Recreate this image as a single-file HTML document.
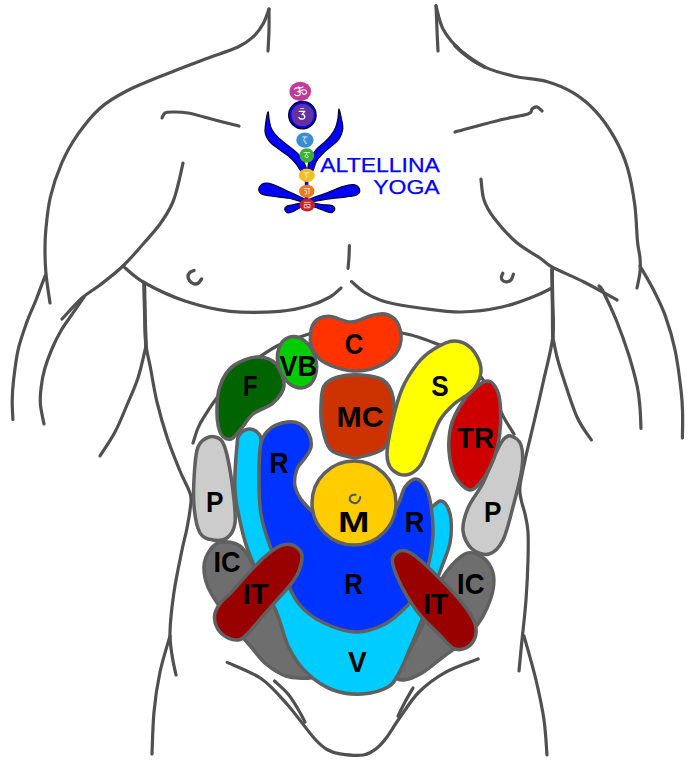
<!DOCTYPE html>
<html><head><meta charset="utf-8"><title>Diagram</title>
<style>html,body{margin:0;padding:0;background:#fff}svg{display:block}</style></head>
<body>
<svg width="700" height="779" viewBox="0 0 700 779">
<rect width="700" height="779" fill="#ffffff"/>
<g fill="none" stroke="#505050" stroke-width="3.2" stroke-linecap="round" stroke-linejoin="round">
<path d="M269.0,9.0 C268.0,11.5 265.7,19.3 263.0,24.0 C260.3,28.7 257.2,33.2 253.0,37.0 C248.8,40.8 246.2,43.2 238.0,47.0 C229.8,50.8 217.0,54.6 204.0,59.5 C191.0,64.4 172.9,71.2 160.0,76.5 C147.1,81.8 136.5,85.8 126.6,91.0 C116.7,96.2 108.6,100.6 100.6,107.7 C92.5,114.8 84.8,124.4 78.3,133.7 C71.8,143.0 66.2,152.8 61.6,163.4 C57.0,174.0 53.0,185.9 50.4,197.0 C47.8,208.1 46.7,220.8 45.8,230.0 C44.9,239.2 45.0,244.7 45.0,252.0 C45.0,259.3 45.2,265.5 46.0,274.0 C46.8,282.5 49.3,298.2 50.0,303.0"/>
<path d="M269.0,9.0 C269.0,12.5 269.2,23.0 269.0,30.0 C268.8,37.0 268.2,47.5 268.0,51.0"/>
<path d="M162.0,118.0 C162.5,117.2 163.3,114.0 165.0,113.0 C166.7,112.0 168.2,112.0 172.0,112.0 C175.8,112.0 180.8,111.7 188.0,113.0 C195.2,114.3 206.5,117.8 215.0,120.0 C223.5,122.2 235.0,125.0 239.0,126.0"/>
<path d="M183.0,163.0 C182.2,166.7 179.8,178.2 178.0,185.0 C176.2,191.8 175.0,197.5 172.0,204.0 C169.0,210.5 164.7,217.5 160.0,224.0 C155.3,230.5 150.2,236.0 144.0,243.0 C137.8,250.0 130.3,259.0 123.0,266.0 C115.7,273.0 106.8,279.7 100.0,285.0 C93.2,290.3 88.3,292.3 82.0,298.0 C75.7,303.7 65.3,315.5 62.0,319.0"/>
<path d="M45.0,276.0 C43.5,280.0 39.0,292.4 36.0,300.0 C33.0,307.6 30.0,313.2 27.0,321.6 C24.0,330.0 20.2,340.4 18.0,350.3 C15.8,360.2 14.5,372.4 13.5,380.8 C12.5,389.2 12.3,394.2 12.2,400.6 C12.1,407.1 12.8,416.4 12.9,419.5"/>
<path d="M84.0,297.0 C82.0,299.9 75.8,308.8 72.0,314.4 C68.2,320.0 64.4,324.8 61.1,330.5 C57.8,336.2 54.8,342.2 52.1,348.5 C49.4,354.8 46.7,362.0 44.9,368.3 C43.1,374.6 42.0,380.2 41.3,386.2 C40.5,392.2 39.9,397.9 40.4,404.2 C40.9,410.5 43.4,420.7 44.0,424.0"/>
<path d="M123.0,266.0 C126.5,268.8 133.7,276.7 144.0,282.5 C154.3,288.3 170.7,296.2 185.0,301.0 C199.3,305.8 214.2,309.6 230.0,311.3 C245.8,313.0 266.7,312.3 280.0,311.3 C293.3,310.3 301.7,307.9 310.0,305.5 C318.3,303.1 324.8,299.9 330.0,297.0 C335.2,294.1 339.2,289.5 341.0,288.0"/>
<path d="M144.0,282.0 C144.2,288.3 144.7,309.5 145.0,320.0 C145.3,330.5 145.1,336.9 146.0,345.0 C146.9,353.1 148.8,359.0 150.6,368.5 C152.4,378.0 154.2,390.4 157.0,402.0 C159.8,413.6 163.5,426.5 167.3,438.0 C171.1,449.5 176.2,461.6 180.0,471.0 C183.8,480.4 188.7,487.9 190.4,494.4 C192.1,500.9 190.6,504.1 190.0,510.0 C189.4,515.9 187.9,523.3 186.6,530.0 C185.3,536.7 184.1,539.7 182.0,550.0 C179.9,560.3 176.0,578.3 174.0,592.0 C172.0,605.7 170.3,621.5 170.0,632.0 C169.7,642.5 171.0,647.8 172.0,655.0 C173.0,662.2 175.3,671.7 176.0,675.0"/>
<path d="M144.3,284.0 C144.4,290.0 144.7,309.7 145.0,320.0 C145.3,330.3 145.8,341.7 146.0,346.0" stroke-width="3.8"/>
<path d="M146.0,346.0 C144.7,351.3 141.2,368.2 138.0,378.0 C134.8,387.8 130.8,396.0 127.0,405.0 C123.2,414.0 119.5,423.5 115.0,432.0 C110.5,440.5 102.5,452.0 100.0,456.0"/>
<path d="M170.0,636.0 C168.3,642.0 162.7,659.3 160.0,672.0 C157.3,684.7 155.3,698.3 154.0,712.0 C152.7,725.7 152.3,747.0 152.0,754.0"/>
<path d="M194.0,270.5 C193.3,270.8 190.8,271.5 189.8,272.5 C188.8,273.5 188.0,275.1 188.0,276.5 C188.0,277.9 188.8,279.8 189.8,281.0 C190.8,282.2 192.6,283.5 194.0,283.8 C195.4,284.1 197.2,283.8 198.5,283.0 C199.8,282.2 201.1,279.7 201.6,279.0" stroke-width="3.4"/>
<path d="M436.0,5.6 C437.2,9.6 439.1,22.0 443.4,29.7 C447.7,37.4 455.2,45.8 462.0,52.0 C468.8,58.2 475.6,62.9 484.3,66.9 C493.0,70.9 503.5,73.7 514.0,76.2 C524.5,78.7 537.5,78.9 547.4,81.7 C557.3,84.5 565.3,88.0 573.4,92.9 C581.5,97.9 588.9,104.0 595.7,111.4 C602.5,118.8 609.0,128.1 614.3,137.4 C619.6,146.7 623.9,156.0 627.3,167.2 C630.7,178.3 633.0,191.9 634.7,204.3 C636.4,216.7 636.6,232.6 637.5,241.5 C638.4,250.4 639.6,252.9 640.0,258.0 C640.4,263.1 640.5,267.0 640.0,272.0 C639.5,277.0 637.5,285.3 637.0,288.0"/>
<path d="M455.0,45.5 C456.2,46.6 459.0,49.6 462.0,52.0 C465.0,54.4 469.3,57.5 473.0,60.0 C476.7,62.5 482.4,65.8 484.3,66.9" stroke-width="3.8"/>
<path d="M436.0,6.0 C436.2,10.0 436.7,22.5 437.0,30.0 C437.3,37.5 437.8,47.5 438.0,51.0"/>
<path d="M455.0,132.0 C462.5,130.0 487.8,123.0 500.0,120.0 C512.2,117.0 522.7,115.8 528.0,114.0 C533.3,112.2 530.5,110.2 532.0,109.0 C533.5,107.8 535.3,106.7 537.0,107.0 C538.7,107.3 541.2,110.3 542.0,111.0"/>
<path d="M481.0,179.0 C481.5,182.5 481.8,193.5 484.0,200.0 C486.2,206.5 488.7,211.0 494.0,218.0 C499.3,225.0 508.3,235.3 516.0,242.0 C523.7,248.7 534.0,253.8 540.0,258.0 C546.0,262.2 544.7,263.0 552.0,267.0 C559.3,271.0 573.2,276.5 584.0,282.0 C594.8,287.5 611.5,297.0 617.0,300.0"/>
<path d="M640.0,266.0 C642.2,269.9 649.0,280.9 653.2,289.3 C657.4,297.7 661.8,306.0 665.4,316.1 C669.0,326.2 672.5,337.6 675.1,350.2 C677.7,362.8 680.0,380.9 681.2,391.7 C682.5,402.5 682.4,407.3 682.6,415.0 C682.8,422.7 682.4,434.2 682.4,438.0"/>
<path d="M599.0,286.0 C599.7,286.9 600.3,285.9 603.2,291.7 C606.1,297.5 612.3,310.4 616.6,321.0 C620.9,331.6 625.3,344.1 628.8,355.1 C632.2,366.1 635.4,378.0 637.3,386.8 C639.2,395.6 639.4,401.1 640.0,408.0 C640.6,414.9 640.8,424.9 641.0,428.3"/>
<path d="M351.6,281.6 C353.7,283.3 359.3,288.9 364.0,292.0 C368.7,295.1 374.0,297.8 380.0,300.0 C386.0,302.2 393.3,303.7 400.0,305.0 C406.7,306.3 409.8,306.8 420.0,308.0 C430.2,309.2 447.3,312.2 461.0,312.0 C474.7,311.8 489.7,309.7 502.0,307.0 C514.3,304.3 526.7,299.2 535.0,296.0 C543.3,292.8 549.2,289.3 552.0,288.0"/>
<path d="M552.0,268.0 C552.1,273.3 552.4,288.5 552.5,300.0 C552.6,311.5 554.4,323.2 552.8,337.0 C551.2,350.8 546.0,369.2 543.0,383.0 C540.0,396.8 537.4,407.5 534.5,420.0 C531.6,432.5 527.9,447.0 525.5,458.0 C523.1,469.0 520.8,479.2 520.0,486.0 C519.2,492.8 520.2,494.3 521.0,499.0 C521.8,503.7 523.8,508.5 525.0,514.0 C526.2,519.5 527.5,524.3 528.0,532.0 C528.5,539.7 528.3,548.7 528.0,560.0 C527.7,571.3 527.0,586.7 526.0,600.0 C525.0,613.3 523.2,628.2 522.0,640.0 C520.8,651.8 519.5,665.8 519.0,671.0"/>
<path d="M552.8,337.0 C553.5,340.3 555.3,350.3 557.0,357.0 C558.7,363.7 559.7,367.0 563.0,377.0 C566.3,387.0 572.3,406.5 577.0,417.0 C581.7,427.5 589.0,436.2 591.4,440.0"/>
<path d="M552.0,270.0 C552.1,275.0 552.4,288.8 552.5,300.0 C552.6,311.2 552.8,330.8 552.8,337.0" stroke-width="3.6"/>
<path d="M524.0,636.0 C526.0,643.3 532.7,666.0 536.0,680.0 C539.3,694.0 542.2,707.5 544.0,720.0 C545.8,732.5 546.5,749.2 547.0,755.0"/>
<path d="M502.8,273.2 C502.6,273.9 501.3,276.2 501.3,277.5 C501.3,278.8 502.1,280.1 503.0,280.8 C503.9,281.5 505.6,282.0 507.0,281.8 C508.4,281.6 510.2,280.9 511.3,279.6 C512.4,278.3 513.0,275.1 513.4,274.2" stroke-width="3.2"/>
<path d="M227.2,662.4 C232.9,665.1 251.3,671.7 261.4,678.8 C271.5,685.9 278.9,695.1 287.7,705.0 C296.5,714.9 307.4,730.6 314.0,738.0 C320.6,745.4 322.6,746.9 327.0,749.5 C331.4,752.1 334.2,753.0 340.2,753.9 C346.2,754.8 357.2,755.9 363.2,755.0 C369.2,754.1 372.6,751.3 376.4,748.5 C380.2,745.7 382.4,743.0 386.2,738.0 C390.0,733.0 393.9,726.0 399.4,718.3 C404.9,710.6 411.3,699.7 419.0,692.0 C426.7,684.3 435.5,677.8 445.4,672.3 C455.3,666.8 472.7,661.2 478.2,659.0"/>
<path d="M274.5,681.0 C276.8,683.2 284.1,689.3 288.0,694.0 C291.9,698.7 295.2,704.3 298.0,709.0 C300.8,713.7 303.8,719.8 305.0,722.0"/>
<path d="M413.0,688.0 C411.7,690.3 407.5,697.3 405.0,702.0 C402.5,706.7 399.2,713.7 398.0,716.0"/>
<path d="M349.4,245.6 C349.3,247.5 349.2,253.2 349.0,257.0 C348.8,260.8 348.2,266.5 348.0,268.4"/>
<path d="M193.0,443.0 C193.8,440.5 196.2,432.3 198.0,428.0 C199.8,423.7 201.0,421.8 204.0,417.0 C207.0,412.2 211.3,405.2 216.0,399.0 C220.7,392.8 226.3,385.8 232.0,380.0 C237.7,374.2 242.5,369.7 250.0,364.0 C257.5,358.3 268.2,350.7 277.0,346.0 C285.8,341.3 296.2,338.5 303.0,336.0 C309.8,333.5 315.5,331.8 318.0,331.0"/>
<path d="M398.0,332.0 C401.3,332.8 411.0,334.8 418.0,337.0 C425.0,339.2 436.3,343.7 440.0,345.0"/>
<path d="M481.0,377.0 C483.2,380.2 490.3,389.5 494.0,396.0 C497.7,402.5 499.7,409.7 503.0,416.0 C506.3,422.3 512.2,431.0 514.0,434.0"/>
</g>
<path d="M221.0,542.0 C216.0,542.7 212.8,546.0 210.0,550.0 C207.2,554.0 204.3,559.8 204.0,566.0 C203.7,572.2 205.0,579.7 208.0,587.0 C211.0,594.3 216.7,602.2 222.0,610.0 C227.3,617.8 235.0,627.7 240.0,634.0 C245.0,640.3 247.7,643.0 252.0,648.0 C256.3,653.0 260.3,659.3 266.0,664.0 C271.7,668.7 278.7,673.7 286.0,676.0 C293.3,678.3 304.8,678.7 310.0,678.0 C315.2,677.3 319.3,677.7 317.0,672.0 C314.7,666.3 303.2,655.3 296.0,644.0 C288.8,632.7 281.0,617.0 274.0,604.0 C267.0,591.0 259.7,575.7 254.0,566.0 C248.3,556.3 245.5,550.0 240.0,546.0 C234.5,542.0 226.0,541.3 221.0,542.0Z" fill="#6e6e6e" stroke="#606060" stroke-width="3.5" stroke-linejoin="round"/>
<path d="M468.0,553.0 C473.3,551.9 479.8,555.2 484.0,558.5 C488.2,561.8 491.5,567.8 493.0,573.0 C494.5,578.2 494.0,584.2 493.0,590.0 C492.0,595.8 489.5,602.3 487.0,608.0 C484.5,613.7 482.5,618.0 478.0,624.0 C473.5,630.0 465.8,638.5 460.0,644.0 C454.2,649.5 449.3,652.2 443.0,657.0 C436.7,661.8 428.5,669.2 422.0,673.0 C415.5,676.8 408.2,679.7 404.0,680.0 C399.8,680.3 396.0,680.0 397.0,675.0 C398.0,670.0 405.3,659.2 410.0,650.0 C414.7,640.8 420.3,630.7 425.0,620.0 C429.7,609.3 433.5,595.2 438.0,586.0 C442.5,576.8 447.0,570.5 452.0,565.0 C457.0,559.5 462.7,554.1 468.0,553.0Z" fill="#6e6e6e" stroke="#606060" stroke-width="3.5" stroke-linejoin="round"/>
<path d="M249.0,429.0 C246.0,429.2 242.0,431.3 240.0,434.0 C238.0,436.7 237.8,435.5 237.0,445.0 C236.2,454.5 234.0,476.2 235.0,491.0 C236.0,505.8 240.0,522.0 243.0,534.0 C246.0,546.0 247.5,550.2 253.0,563.0 C258.5,575.8 270.0,596.8 276.0,611.0 C282.0,625.2 283.8,637.7 289.0,648.0 C294.2,658.3 299.7,666.0 307.0,673.0 C314.3,680.0 323.8,686.5 333.0,690.0 C342.2,693.5 352.8,694.5 362.0,694.0 C371.2,693.5 381.8,690.5 388.0,687.0 C394.2,683.5 395.2,679.8 399.0,673.0 C402.8,666.2 407.3,654.5 411.0,646.0 C414.7,637.5 416.0,634.8 421.0,622.0 C426.0,609.2 436.2,582.2 441.0,569.0 C445.8,555.8 448.3,551.2 450.0,543.0 C451.7,534.8 451.5,526.2 451.0,520.0 C450.5,513.8 448.8,509.2 447.0,506.0 C445.2,502.8 442.8,500.7 440.0,501.0 C437.2,501.3 436.7,504.8 430.0,508.0 C423.3,511.2 416.7,518.0 400.0,520.0 C383.3,522.0 351.7,523.3 330.0,520.0 C308.3,516.7 281.3,512.5 270.0,500.0 C258.7,487.5 264.0,456.2 262.0,445.0 C260.0,433.8 260.2,435.7 258.0,433.0 C255.8,430.3 252.0,428.8 249.0,429.0Z" fill="#00ccff" stroke="#606060" stroke-width="3.5" stroke-linejoin="round"/>
<path d="M287.0,422.0 C291.8,421.3 296.3,422.0 300.0,424.0 C303.7,426.0 307.2,430.2 309.0,434.0 C310.8,437.8 311.7,443.0 311.0,447.0 C310.3,451.0 307.3,454.3 305.0,458.0 C302.7,461.7 298.7,464.3 297.0,469.0 C295.3,473.7 293.8,480.3 295.0,486.0 C296.2,491.7 299.8,498.2 304.0,503.0 C308.2,507.8 311.7,512.2 320.0,515.0 C328.3,517.8 342.0,520.5 354.0,520.0 C366.0,519.5 383.5,517.5 392.0,512.0 C400.5,506.5 401.0,492.5 405.0,487.0 C409.0,481.5 412.5,478.8 416.0,479.0 C419.5,479.2 423.5,483.5 426.0,488.0 C428.5,492.5 429.8,498.3 431.0,506.0 C432.2,513.7 433.3,524.7 433.0,534.0 C432.7,543.3 431.0,553.0 429.0,562.0 C427.0,571.0 424.7,580.7 421.0,588.0 C417.3,595.3 413.0,600.0 407.0,606.0 C401.0,612.0 393.5,619.7 385.0,624.0 C376.5,628.3 366.5,632.3 356.0,632.0 C345.5,631.7 331.5,626.7 322.0,622.0 C312.5,617.3 305.3,611.7 299.0,604.0 C292.7,596.3 288.8,585.7 284.0,576.0 C279.2,566.3 273.8,556.3 270.0,546.0 C266.2,535.7 262.8,525.5 261.0,514.0 C259.2,502.5 259.0,488.8 259.0,477.0 C259.0,465.2 259.0,451.2 261.0,443.0 C263.0,434.8 266.7,431.5 271.0,428.0 C275.3,424.5 282.2,422.7 287.0,422.0Z" fill="#0033ff" stroke="#606060" stroke-width="3.5" stroke-linejoin="round"/>
<circle cx="354" cy="503" r="42" fill="#ffcc00" stroke="#606060" stroke-width="3.5"/>
<path d="M355.6,494.8 C355.0,494.8 353.1,494.6 352.2,495.0 C351.2,495.4 350.2,496.5 349.9,497.5 C349.6,498.5 349.8,500.1 350.5,501.0 C351.2,501.9 352.8,502.8 354.0,503.0 C355.2,503.2 356.6,502.9 357.5,502.3 C358.4,501.7 359.2,500.5 359.6,499.6 C360.1,498.7 360.1,497.4 360.2,497.0" fill="none" stroke="#545462" stroke-width="2.1" stroke-linecap="round"/>
<path d="M285.3,544.4 C288.4,544.2 292.9,544.7 295.6,546.4 C298.4,548.1 301.1,550.8 301.8,554.6 C302.5,558.4 301.4,564.2 299.7,569.0 C298.0,573.8 295.3,578.3 291.5,583.4 C287.7,588.5 281.9,594.3 277.1,599.8 C272.3,605.3 267.2,611.1 262.8,616.2 C258.4,621.3 254.2,626.7 250.4,630.6 C246.6,634.5 243.9,638.3 240.2,639.5 C236.4,640.7 231.7,639.6 227.9,637.8 C224.1,636.0 219.8,632.2 217.6,628.6 C215.4,625.0 214.2,620.3 214.5,616.2 C214.8,612.1 216.7,608.0 219.6,603.9 C222.5,599.8 227.2,596.7 232.0,591.6 C236.8,586.5 242.9,578.9 248.4,573.1 C253.9,567.3 260.0,561.0 264.8,556.7 C269.6,552.4 273.7,549.5 277.1,547.5 C280.5,545.5 282.2,544.6 285.3,544.4Z" fill="#990000" stroke="#606060" stroke-width="3.5"/>
<path d="M392.3,560.0 C392.3,556.3 394.7,554.6 396.4,553.0 C398.1,551.4 400.2,550.5 402.6,550.5 C405.0,550.5 407.7,551.3 410.8,553.0 C413.9,554.7 416.2,556.6 421.0,560.8 C425.8,565.0 433.3,572.1 439.5,578.3 C445.7,584.5 452.9,591.8 458.0,597.8 C463.1,603.8 467.3,609.1 470.3,614.2 C473.3,619.3 475.5,624.1 476.0,628.6 C476.5,633.1 475.4,637.6 473.4,641.0 C471.4,644.4 467.6,647.5 464.2,648.7 C460.8,649.9 457.1,650.3 453.0,648.0 C448.9,645.7 444.8,640.0 439.5,634.7 C434.2,629.4 426.5,622.7 421.0,616.2 C415.5,609.7 410.8,602.5 406.7,595.7 C402.6,588.9 398.8,581.2 396.4,575.2 C394.0,569.2 392.3,563.7 392.3,560.0Z" fill="#990000" stroke="#606060" stroke-width="3.5"/>
<path d="M209.0,437.0 C212.8,435.8 218.0,437.0 221.0,440.0 C224.0,443.0 225.0,446.5 227.0,455.0 C229.0,463.5 231.7,479.7 233.0,491.0 C234.3,502.3 236.0,515.2 235.0,523.0 C234.0,530.8 230.7,535.2 227.0,538.0 C223.3,540.8 217.5,540.8 213.0,540.0 C208.5,539.2 203.2,538.7 200.0,533.0 C196.8,527.3 194.9,516.3 194.0,506.0 C193.1,495.7 193.8,480.8 194.5,471.0 C195.2,461.2 195.6,452.7 198.0,447.0 C200.4,441.3 205.2,438.2 209.0,437.0Z" fill="#cccccc" stroke="#606060" stroke-width="3.5" stroke-linejoin="round"/>
<path d="M511.0,436.0 C514.0,436.8 519.2,439.7 521.0,445.0 C522.8,450.3 523.2,458.3 522.0,468.0 C520.8,477.7 517.2,491.0 514.0,503.0 C510.8,515.0 507.2,531.5 503.0,540.0 C498.8,548.5 494.2,552.5 489.0,554.0 C483.8,555.5 476.3,552.8 472.0,549.0 C467.7,545.2 463.7,537.8 463.0,531.0 C462.3,524.2 464.7,516.0 468.0,508.0 C471.3,500.0 478.7,491.5 483.0,483.0 C487.3,474.5 490.7,464.2 494.0,457.0 C497.3,449.8 500.2,443.5 503.0,440.0 C505.8,436.5 508.0,435.2 511.0,436.0Z" fill="#cccccc" stroke="#606060" stroke-width="3.5" stroke-linejoin="round"/>
<path d="M310.3,340.0 C310.3,335.2 310.8,326.9 313.8,323.0 C316.8,319.1 322.3,316.5 328.5,316.3 C334.7,316.1 344.1,322.1 351.0,322.0 C357.9,321.9 364.3,317.3 370.0,316.0 C375.7,314.7 380.5,313.0 385.0,314.0 C389.5,315.0 394.3,317.7 397.0,322.0 C399.7,326.3 401.7,334.2 401.0,340.0 C400.3,345.8 398.0,352.2 393.0,357.0 C388.0,361.8 378.3,366.8 371.0,369.0 C363.7,371.2 356.7,371.5 349.0,370.5 C341.3,369.5 330.8,365.9 325.0,362.8 C319.2,359.7 316.4,355.8 314.0,352.0 C311.6,348.2 310.3,344.8 310.3,340.0Z" fill="#ff3300" stroke="#606060" stroke-width="3.5" stroke-linejoin="round"/>
<path d="M257.0,357.0 C264.2,356.7 271.5,359.2 276.0,364.0 C280.5,368.8 284.5,379.5 284.0,386.0 C283.5,392.5 278.2,398.3 273.0,403.0 C267.8,407.7 258.3,409.7 253.0,414.0 C247.7,418.3 244.7,424.8 241.0,429.0 C237.3,433.2 234.3,438.2 231.0,439.0 C227.7,439.8 223.3,438.2 221.0,434.0 C218.7,429.8 217.2,422.0 217.0,414.0 C216.8,406.0 217.3,394.0 220.0,386.0 C222.7,378.0 226.8,370.8 233.0,366.0 C239.2,361.2 249.8,357.3 257.0,357.0Z" fill="#006400" stroke="#606060" stroke-width="3.5" stroke-linejoin="round"/>
<path d="M324.0,386.0 C326.8,381.2 331.8,378.8 338.0,377.0 C344.2,375.2 353.5,374.5 361.0,375.0 C368.5,375.5 377.7,376.3 383.0,380.0 C388.3,383.7 391.3,388.8 393.0,397.0 C394.7,405.2 394.7,420.3 393.0,429.0 C391.3,437.7 388.5,444.3 383.0,449.0 C377.5,453.7 365.5,455.7 360.0,457.0 C354.5,458.3 355.0,458.3 350.0,457.0 C345.0,455.7 334.7,454.2 330.0,449.0 C325.3,443.8 323.5,433.2 322.0,426.0 C320.5,418.8 320.7,412.7 321.0,406.0 C321.3,399.3 321.2,390.8 324.0,386.0Z" fill="#cc3300" stroke="#606060" stroke-width="3.5" stroke-linejoin="round"/>
<path d="M454.0,341.0 C460.2,340.8 466.5,343.5 471.0,348.0 C475.5,352.5 480.5,361.2 481.0,368.0 C481.5,374.8 478.5,383.0 474.0,389.0 C469.5,395.0 459.7,398.8 454.0,404.0 C448.3,409.2 444.2,413.0 440.0,420.0 C435.8,427.0 432.3,438.3 429.0,446.0 C425.7,453.7 423.8,461.2 420.0,466.0 C416.2,470.8 410.7,474.4 406.0,475.0 C401.3,475.6 395.2,473.0 392.0,469.5 C388.8,466.0 387.0,461.8 387.0,454.0 C387.0,446.2 389.5,433.8 392.0,423.0 C394.5,412.2 397.8,398.9 402.0,389.0 C406.2,379.1 412.2,370.2 417.5,363.5 C422.8,356.8 427.9,352.8 434.0,349.0 C440.1,345.2 447.8,341.2 454.0,341.0Z" fill="#ffff00" stroke="#606060" stroke-width="3.5" stroke-linejoin="round"/>
<path d="M488.0,381.0 C491.8,381.2 494.9,385.5 497.0,390.0 C499.1,394.5 500.1,400.3 500.5,408.0 C500.9,415.7 500.6,427.7 499.5,436.0 C498.4,444.3 496.8,450.8 494.0,458.0 C491.2,465.2 487.0,473.7 483.0,479.0 C479.0,484.3 474.7,490.5 470.0,490.0 C465.3,489.5 458.5,482.5 455.0,476.0 C451.5,469.5 449.7,459.3 449.0,451.0 C448.3,442.7 449.2,433.5 451.0,426.0 C452.8,418.5 456.2,412.2 460.0,406.0 C463.8,399.8 469.3,393.2 474.0,389.0 C478.7,384.8 484.2,380.8 488.0,381.0Z" fill="#cc0000" stroke="#606060" stroke-width="3.5" stroke-linejoin="round"/>
<ellipse cx="297" cy="362.3" rx="18.8" ry="26.3" transform="rotate(-17 297 362.3)" fill="#00cc00" stroke="#606060" stroke-width="3.5"/>
<g font-family="Liberation Sans, sans-serif" font-weight="bold" font-size="29.4" text-anchor="middle" fill="#000">
<text transform="translate(353.95,354.30) scale(0.872,1)">C</text>
<text transform="translate(298.30,375.60) scale(0.916,1)">VB</text>
<text transform="translate(250.30,396.30) scale(0.800,1)">F</text>
<text transform="translate(359.95,426.80) scale(1.030,1)">MC</text>
<text transform="translate(440.00,395.80) scale(0.888,1)">S</text>
<text transform="translate(475.45,448.40) scale(0.943,1)">TR</text>
<text transform="translate(279.00,472.60) scale(0.900,1)">R</text>
<text transform="translate(214.85,511.70) scale(0.894,1)">P</text>
<text transform="translate(353.75,531.70) scale(1.285,1)">M</text>
<text transform="translate(227.10,572.30) scale(0.923,1)">IC</text>
<text transform="translate(255.55,604.20) scale(0.988,1)">IT</text>
<text transform="translate(353.55,593.50) scale(0.872,1)">R</text>
<text transform="translate(414.60,531.70) scale(0.922,1)">R</text>
<text transform="translate(492.85,522.00) scale(0.894,1)">P</text>
<text transform="translate(470.75,593.50) scale(0.935,1)">IC</text>
<text transform="translate(435.75,614.00) scale(0.954,1)">IT</text>
<text transform="translate(357.40,672.00) scale(0.956,1)">V</text>
</g>
<g id="logo">
<g fill="#0000ff" stroke="#000018" stroke-width="1.1" stroke-linejoin="round">
<path d="M268.1,111.7 C267.6,112.0 266.4,117.9 265.9,121.4 C265.4,125.0 264.6,129.5 265.1,132.9 C265.7,136.2 267.2,138.8 269.3,141.4 C271.4,144.0 274.8,146.2 277.9,148.6 C281.0,151.0 284.8,153.1 287.9,155.7 C291.0,158.3 294.2,161.7 296.4,164.3 C298.6,166.8 299.3,169.9 301.0,171.0 C302.7,172.1 305.9,171.7 306.7,171.0 C307.5,170.3 306.4,168.5 305.9,166.9 C305.3,165.3 304.7,163.4 303.6,161.4 C302.5,159.5 301.2,157.1 299.3,155.0 C297.4,152.9 294.8,150.7 292.1,148.6 C289.5,146.4 286.2,144.3 283.6,142.1 C281.0,140.0 278.5,138.0 276.4,135.7 C274.4,133.5 272.6,131.2 271.4,128.6 C270.2,126.0 269.8,122.8 269.3,120.0 C268.7,117.2 268.7,111.5 268.1,111.7Z"/>
<path d="M339.0,108.9 C339.6,108.9 340.8,115.3 341.4,118.6 C342.1,121.9 343.2,125.2 342.9,128.6 C342.5,131.9 341.1,135.7 339.3,138.6 C337.5,141.4 334.8,143.3 332.1,145.7 C329.5,148.1 326.2,150.2 323.6,152.9 C321.0,155.5 318.2,158.4 316.4,161.4 C314.6,164.5 314.2,169.4 312.7,171.0 C311.2,172.6 308.4,171.7 307.6,171.0 C306.8,170.3 307.8,168.5 308.0,166.9 C308.2,165.3 308.3,163.4 309.0,161.4 C309.7,159.5 310.9,157.0 312.1,155.0 C313.4,153.0 314.5,151.3 316.4,149.3 C318.3,147.3 321.2,145.1 323.6,142.9 C326.0,140.6 328.7,138.3 330.7,135.7 C332.7,133.1 334.5,130.0 335.7,127.1 C336.9,124.3 337.3,121.6 337.9,118.6 C338.4,115.5 338.4,108.9 339.0,108.9Z"/>
<path d="M306.3,199.9 C303.4,198.0 294.1,193.9 288.5,191.4 C283.0,188.8 277.2,185.8 273.1,184.4 C269.0,183.1 266.2,182.7 263.9,183.3 C261.5,183.9 259.3,186.4 258.9,188.1 C258.4,189.8 259.4,192.4 261.2,193.7 C262.9,195.0 264.7,195.0 269.3,195.8 C273.8,196.6 282.5,197.2 288.5,198.3 C294.6,199.4 302.5,202.3 305.5,202.6 C308.4,202.8 309.1,201.7 306.3,199.9Z"/>
<path d="M307.8,199.9 C310.9,198.2 321.3,194.9 327.1,192.7 C332.9,190.5 338.0,187.9 342.5,186.6 C347.0,185.2 351.2,184.2 354.0,184.6 C356.9,185.1 359.1,187.6 359.6,189.3 C360.1,190.9 359.3,193.4 357.1,194.7 C354.9,195.9 351.3,196.2 346.3,197.0 C341.3,197.7 333.4,198.2 327.1,199.1 C320.8,200.0 311.8,202.4 308.6,202.6 C305.4,202.7 304.7,201.5 307.8,199.9Z"/>
<path d="M304.9,202.6 C303.1,202.4 297.3,203.9 294.3,204.5 C291.3,205.1 288.6,205.2 287.0,206.0 C285.4,206.9 284.6,208.3 284.7,209.5 C284.8,210.6 286.3,212.6 287.8,213.0 C289.2,213.3 291.2,212.3 293.4,211.4 C295.5,210.5 298.5,208.6 300.5,207.6 C302.5,206.5 304.8,206.1 305.5,205.3 C306.2,204.4 306.8,202.7 304.9,202.6Z"/>
<path d="M309.3,202.6 C311.4,202.4 317.5,204.0 321.3,204.5 C325.0,205.0 329.6,204.9 331.9,205.6 C334.1,206.4 334.8,207.9 334.8,209.1 C334.8,210.3 333.3,212.2 331.9,212.6 C330.4,213.0 328.5,212.2 326.1,211.4 C323.7,210.6 320.3,209.0 317.4,207.9 C314.6,206.9 310.3,206.1 309.0,205.3 C307.6,204.4 307.3,202.7 309.3,202.6Z"/>
</g>
<rect x="304.8" y="169" width="3.6" height="33" fill="#0000ff"/>
<ellipse cx="300.3" cy="91.4" rx="10.8" ry="9.6" fill="#c23a9a"/>
<circle cx="302.4" cy="115.1" r="13.7" fill="#0000ff" stroke="#000010" stroke-width="1.3"/>
<circle cx="302.6" cy="115.1" r="11.2" fill="#6530a0"/>
<ellipse cx="304.9" cy="140.1" rx="8.7" ry="7.7" fill="#3a8ed0"/>
<circle cx="306.8" cy="155.5" r="7.3" fill="#3cb030"/>
<ellipse cx="306.8" cy="175.2" rx="8" ry="6.7" fill="#f0c020"/>
<ellipse cx="306.8" cy="191.2" rx="7.7" ry="6.5" fill="#f07820"/>
<ellipse cx="307.2" cy="205" rx="7.7" ry="6.5" fill="#c82020"/>
<g fill="none" stroke="#fff" stroke-linecap="round" stroke-linejoin="round">
<path stroke-width="1.15" d="M294.6,89 C296,87.4 299.6,87.6 299.8,89.4 C299.9,91 298.6,91.5 297.6,91.6 C299.4,91.7 300.6,92.6 300.4,94 C300,96.2 296,96 294.6,94.6 M299.8,91.8 C301.4,89.4 305,89.2 306.3,91 C307.4,93 305.4,94.6 303.6,94.2 C302.4,93.9 302,93 302.2,92.2 M298.6,86.9 C299.8,88.2 301.8,88.2 303,86.9"/>
<path stroke-width="1.3" d="M299.2,111.4 h5.6 l-2.8,3 c3.4,-0.2 3.8,4.6 0.2,4.8 c-1.6,0 -2.6,-0.6 -3.2,-1.6"/>
<path stroke-width="0.8" d="M300.6,108.6 h3.2"/>
<path stroke-width="0.9" stroke-opacity=".85" d="M302.6,137 h4.6 M304.9,137 v1.6 c-2,0.6 -1.6,2.6 0.6,2.4 c-1.4,1 -0.6,2.8 1,2.4"/>
<path stroke-width="0.9" stroke-opacity=".85" d="M304,152.6 h5.6 M306.8,152.6 v2 c-2.4,0 -2.4,3 0,3 c1.8,0 2,-1.6 0.8,-2.2"/>
<path stroke-width="0.9" stroke-opacity=".7" d="M304.2,172.8 h5.2 M307.6,172.8 c-2.6,1.2 -2.8,3 -0.4,3.2 l-1.4,2.4"/>
<path stroke-width="0.9" stroke-opacity=".8" d="M304.2,188.6 h5.4 M309,188.6 v5.2 M304.6,190.4 c2,-0.6 3,1 1.4,1.8 c2,0.4 1.6,2.2 -1.2,1.8"/>
<path stroke-width="0.9" stroke-opacity=".8" d="M304.2,202.4 h6 M304.6,204.4 h5.4 v3.4 h-5.4 z M306,205.6 l2.6,1.4"/>
</g>
<g font-family="Liberation Sans, sans-serif" font-size="20.4" fill="#0000ff" stroke="#0000ff" stroke-width="0.25">
<text x="320.3" y="172.2" textLength="119.6" lengthAdjust="spacingAndGlyphs">ALTELLINA</text>
<text x="373.2" y="194.4" textLength="66.4" lengthAdjust="spacingAndGlyphs">YOGA</text>
</g></g>
</svg>
</body></html>
